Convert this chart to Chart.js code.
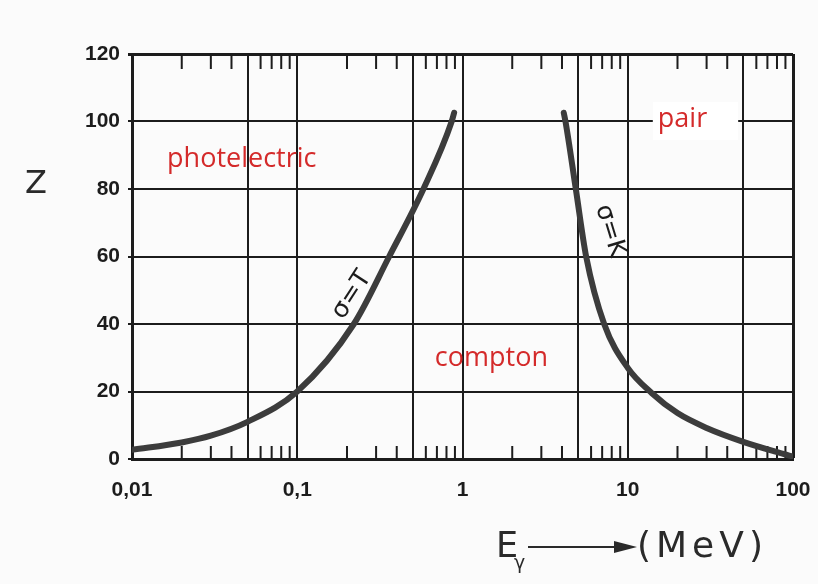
<!DOCTYPE html>
<html lang="en">
<head>
  <meta charset="UTF-8" />
  <meta name="viewport" content="width=device-width, initial-scale=1.0"/>
  <title>Gamma Interaction Regions</title>
  <script src="https://cdn.jsdelivr.net/npm/chart.js"></script>
  <style>
    html, body { margin: 0; padding: 0; background: #fbfbfb; }
    #wrap { width: 818px; height: 584px; }
  </style>
</head>
<body>
  <div id="wrap"><canvas id="regionChart" width="818" height="584"></canvas></div>

  <script>
    // sigma = tau boundary (photoelectric equals compton)
    const tauEnergy = [0.01, 0.02, 0.03, 0.05, 0.1, 0.22, 0.36, 0.58, 0.86, 0.89];
    const tauZ      = [2.7,  4.9,  6.9,  11,   20,  40,   60,   80,   100,  102.6];

    // sigma = kappa boundary (compton equals pair production)
    const kappaEnergy = [4.1,   4.2, 4.85, 5.6, 7.2, 10, 14,   20,   30,  50,  100];
    const kappaZ      = [102.6, 100, 80,   60,  40,  27, 19.5, 13.6, 9.2, 5.1, 0.7];

    // axis ticks
    const decades = [0.01, 0.1, 1, 10, 100];
    const decadeLabels = ['0,01', '0,1', '1', '10', '100'];
    const gridMantissas = [1, 5];
    const minorMantissas = [2, 3, 4, 6, 7, 8, 9];
    const zMin = 0, zMax = 120, zStep = 20;

    // region names and where they sit (energy, Z)
    const regionNames = ['photelectric', 'compton', 'pair'];
    const regionEnergy = [0.0163, 0.68, 15.2];
    const regionZ = [86.5, 27.6, 98.4];

    // curve captions (energy, Z, angle in degrees)
    const curveNames = ['σ=T', 'σ=K'];
    const curveEnergy = [0.214, 7.8];
    const curveZ = [48.6, 67.6];
    const curveAngle = [-57, 73];

    const ink = '#1c1c1c';
    const red = '#d42a2a';

    // every 1..9 value in each decade, so the log axis has minor positions
    const xTickValues = [];
    decades.slice(0, -1).forEach(d => {
      for (let m = 1; m <= 9; m++) xTickValues.push(Number((d * m).toPrecision(3)));
    });
    xTickValues.push(decades[decades.length - 1]);

    function mantissa(v) {
      const p = Math.pow(10, Math.floor(Math.log10(v) + 1e-9));
      return Math.round(v / p);
    }

    const toPoints = (xs, ys) => xs.map((x, i) => ({ x: x, y: ys[i] }));

    // inward minor ticks on top and bottom edges
    const minorTicks = {
      id: 'minorTicks',
      beforeDatasetsDraw(chart) {
        const { ctx, chartArea: a, scales: { x } } = chart;
        ctx.save();
        ctx.strokeStyle = ink;
        ctx.lineWidth = 2;
        x.ticks.forEach(t => {
          if (!minorMantissas.includes(mantissa(t.value))) return;
          const px = x.getPixelForValue(t.value);
          ctx.beginPath();
          ctx.moveTo(px, a.bottom);
          ctx.lineTo(px, a.bottom - 13);
          ctx.moveTo(px, a.top);
          ctx.lineTo(px, a.top + 15);
          ctx.stroke();
        });
        ctx.restore();
      }
    };

    // region names, curve captions and the axis titles
    const annotations = {
      id: 'annotations',
      afterDatasetsDraw(chart) {
        const { ctx, chartArea: a, scales: { x, y } } = chart;
        ctx.save();

        ctx.font = '27px "Open Sans"';
        ctx.textBaseline = 'alphabetic';
        ctx.textAlign = 'left';
        regionNames.forEach((name, i) => {
          const px = x.getPixelForValue(regionEnergy[i]);
          const py = y.getPixelForValue(regionZ[i]);
          if (name === 'pair') {
            const w = ctx.measureText(name).width;
            ctx.fillStyle = '#ffffff';
            ctx.fillRect(px - 5, py - 25, w + 36, 38);
          }
          ctx.fillStyle = red;
          ctx.fillText(name, px, py);
        });

        ctx.fillStyle = ink;
        ctx.font = '25px "DejaVu Sans"';
        ctx.textAlign = 'center';
        ctx.textBaseline = 'middle';
        curveNames.forEach((name, i) => {
          ctx.save();
          ctx.translate(x.getPixelForValue(curveEnergy[i]), y.getPixelForValue(curveZ[i]));
          ctx.rotate(curveAngle[i] * Math.PI / 180);
          ctx.fillText(name, 0, 0);
          ctx.restore();
        });

        // Z title, upright to the left of the axis
        ctx.font = '32px "DejaVu Sans"';
        ctx.fillStyle = '#2a2a2a';
        ctx.fillText('Z', a.left - 96, 185);

        // E_gamma ---> (MeV)
        const base = 557;
        ctx.textAlign = 'left';
        ctx.textBaseline = 'alphabetic';
        ctx.font = '35px "DejaVu Sans"';
        ctx.fillText('E', 496, base);
        ctx.font = '19px "DejaVu Sans"';
        ctx.fillText('γ', 514, base + 12);
        ctx.strokeStyle = '#2a2a2a';
        ctx.lineWidth = 2;
        ctx.beginPath();
        ctx.moveTo(528, base - 10);
        ctx.lineTo(620, base - 10);
        ctx.stroke();
        ctx.beginPath();
        ctx.moveTo(637, base - 10);
        ctx.lineTo(614, base - 16);
        ctx.lineTo(614, base - 4);
        ctx.closePath();
        ctx.fill();
        ctx.font = '36px "DejaVu Sans"';
        ctx.letterSpacing = '5px';
        ctx.fillText('(MeV)', 637, base);
        ctx.restore();
      }
    };

    const ctx = document.getElementById('regionChart').getContext('2d');
    new Chart(ctx, {
      type: 'line',
      data: {
        datasets: [
          {
            label: 'σ = τ',
            data: toPoints(tauEnergy, tauZ),
            borderColor: '#3c3c3c',
            borderWidth: 6,
            pointRadius: 0,
            cubicInterpolationMode: 'monotone',
            borderCapStyle: 'round'
          },
          {
            label: 'σ = κ',
            data: toPoints(kappaEnergy, kappaZ),
            borderColor: '#3c3c3c',
            borderWidth: 6,
            pointRadius: 0,
            cubicInterpolationMode: 'monotone',
            borderCapStyle: 'round'
          }
        ]
      },
      options: {
        responsive: false,
        animation: false,
        layout: { padding: { top: 54, right: 25, left: 0, bottom: 0 } },
        plugins: {
          legend: { display: false },
          tooltip: { enabled: false }
        },
        scales: {
          x: {
            type: 'logarithmic',
            min: decades[0],
            max: decades[decades.length - 1],
            afterBuildTicks: scale => {
              scale.ticks = xTickValues.map(v => ({ value: v }));
            },
            afterFit: scale => {
              scale.height = 125;
              scale.paddingLeft = 0;
              scale.paddingRight = 0;
            },
            ticks: {
              autoSkip: false,
              maxRotation: 0,
              padding: 19,
              color: ink,
              font: { family: '"Liberation Sans", Arial', size: 21, weight: 'bold' },
              callback: value => {
                const i = decades.findIndex(d => Math.abs(d - value) / d < 1e-6);
                return i >= 0 ? decadeLabels[i] : '';
              }
            },
            grid: {
              drawTicks: false,
              color: c => gridMantissas.includes(mantissa(c.tick.value)) ? ink : 'rgba(0,0,0,0)',
              lineWidth: c => c.tick.value >= 99 ? 3 : 2
            },
            border: { display: true, color: ink, width: 3 }
          },
          y: {
            min: zMin,
            max: zMax,
            afterFit: scale => { scale.width = 132; },
            ticks: {
              stepSize: zStep,
              padding: 8,
              color: ink,
              font: { family: '"Liberation Sans", Arial', size: 21, weight: 'bold' }
            },
            grid: {
              color: ink,
              tickLength: 4,
              lineWidth: c => c.tick.value >= zMax ? 3 : 2
            },
            border: { display: true, color: ink, width: 3 }
          }
        }
      },
      plugins: [minorTicks, annotations]
    });
  </script>
</body>
</html>
